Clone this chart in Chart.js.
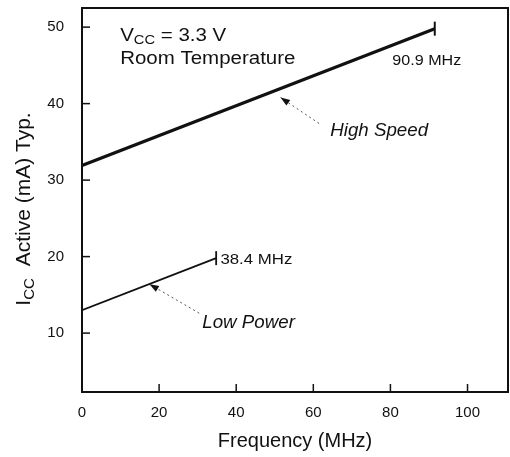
<!DOCTYPE html>
<html>
<head>
<meta charset="utf-8">
<script src="https://cdn.jsdelivr.net/npm/chart.js@4"></script>
<style>
  html, body { margin: 0; padding: 0; background: #fff; }
  #wrap { width: 510px; height: 457px; }
</style>
</head>
<body>
<div id="wrap"><canvas id="chart"></canvas></div>
<script>
// valores
const freqHighSpeed = [0, 91.5];
const iccHighSpeed = [31.9, 49.8];
const freqLowPower = [0, 34.8];
const iccLowPower = [13, 19.8];
const xTicks = [0, 20, 40, 60, 80, 100];
const yTicks = [10, 20, 30, 40, 50];

const FONT = '"Liberation Sans", Arial, sans-serif';

function pares(xs, ys) {
    return xs.map((x, i) => ({ x: x, y: ys[i] }));
}

// texto com subscrito (I_CC, V_CC), sx = esticamento horizontal
function textoSub(ctx, partes, x, y, size, sx) {
    ctx.save();
    ctx.translate(x, y);
    ctx.scale(sx || 1, 1);
    let cx = 0;
    partes.forEach(p => {
        const s = p.sub ? size * 0.72 : size;
        ctx.font = (p.italic ? 'italic ' : '') + s + 'px ' + FONT;
        ctx.fillText(p.t, cx, p.sub ? size * 0.2 : 0);
        cx += ctx.measureText(p.t).width;
    });
    ctx.restore();
}

function larguraSub(ctx, partes, size) {
    let w = 0;
    partes.forEach(p => {
        const s = p.sub ? size * 0.72 : size;
        ctx.font = s + 'px ' + FONT;
        w += ctx.measureText(p.t).width;
    });
    return w;
}

function seta(ctx, x1, y1, x2, y2) {
    ctx.save();
    ctx.strokeStyle = '#555';
    ctx.lineWidth = 1;
    ctx.setLineDash([2, 3]);
    ctx.beginPath();
    ctx.moveTo(x1, y1);
    ctx.lineTo(x2, y2);
    ctx.stroke();
    ctx.setLineDash([]);
    const a = Math.atan2(y2 - y1, x2 - x1);
    ctx.fillStyle = '#111';
    ctx.beginPath();
    ctx.moveTo(x2, y2);
    ctx.lineTo(x2 - 10 * Math.cos(a - 0.35), y2 - 10 * Math.sin(a - 0.35));
    ctx.lineTo(x2 - 10 * Math.cos(a + 0.35), y2 - 10 * Math.sin(a + 0.35));
    ctx.closePath();
    ctx.fill();
    ctx.restore();
}

const anotacoes = {
    id: 'anotacoes',
    afterDraw(chart) {
        const ctx = chart.ctx;
        const a = chart.chartArea;
        const xs = chart.scales.x, ys = chart.scales.y;
        const px = v => xs.getPixelForValue(v);
        const py = v => ys.getPixelForValue(v);

        ctx.save();
        // moldura
        ctx.strokeStyle = '#111';
        ctx.lineWidth = 2;
        ctx.strokeRect(a.left, a.top, a.right - a.left, a.bottom - a.top);

        // marcas internas
        ctx.lineWidth = 1.5;
        yTicks.forEach(v => {
            ctx.beginPath();
            ctx.moveTo(a.left, py(v));
            ctx.lineTo(a.left + 8, py(v));
            ctx.stroke();
        });
        xTicks.slice(1).forEach(v => {
            ctx.beginPath();
            ctx.moveTo(px(v), a.bottom);
            ctx.lineTo(px(v), a.bottom - 8);
            ctx.stroke();
        });

        ctx.fillStyle = '#111';
        ctx.textBaseline = 'alphabetic';
        ctx.textAlign = 'left';
        textoSub(ctx, [{ t: 'V' }, { t: 'CC', sub: true }, { t: ' = 3.3 V' }], px(9.9), py(48.2), 17.5, 1.17);
        textoSub(ctx, [{ t: 'Room Temperature' }], px(9.9), py(45.2), 17.5, 1.17);

        textoSub(ctx, [{ t: '90.9 MHz' }], px(80.5), py(45.0), 14, 1.15);
        textoSub(ctx, [{ t: '38.4 MHz' }], px(35.9), py(19.0), 14, 1.2);

        textoSub(ctx, [{ t: 'High Speed', italic: true }], px(64.4), py(35.8), 18, 1.04);
        textoSub(ctx, [{ t: 'Low Power', italic: true }], px(31.2), py(10.7), 18, 1.04);

        seta(ctx, px(61.5), py(37.4), px(51.5), py(40.8));
        seta(ctx, px(30.4), py(12.6), px(17.5), py(16.4));

        // título do eixo y, com subscrito
        const partes = [{ t: 'I' }, { t: 'CC', sub: true }, { t: '  Active (mA) Typ.' }];
        const w = larguraSub(ctx, partes, 21);
        ctx.translate(30, 209);
        ctx.rotate(-Math.PI / 2);
        textoSub(ctx, partes, -w / 2, 0, 21, 1);
        ctx.restore();
    }
};

document.addEventListener('DOMContentLoaded', function () {
    const ctx = document.getElementById('chart').getContext('2d');
    new Chart(ctx, {
        type: 'line',
        data: {
            datasets: [{
                label: 'High Speed',
                data: pares(freqHighSpeed, iccHighSpeed),
                borderColor: '#111',
                borderWidth: 3.2,
                pointStyle: 'line',
                rotation: 90,
                pointRadius: [0, 7],
                pointBorderWidth: 2,
                pointBorderColor: '#111',
                tension: 0
            }, {
                label: 'Low Power',
                data: pares(freqLowPower, iccLowPower),
                borderColor: '#111',
                borderWidth: 1.8,
                pointStyle: 'line',
                rotation: 90,
                pointRadius: [0, 7],
                pointBorderWidth: 1.8,
                pointBorderColor: '#111',
                tension: 0
            }]
        },
        options: {
            responsive: true,
            maintainAspectRatio: false,
            animation: false,
            layout: { autoPadding: false, padding: { left: 0, right: 2, top: 8, bottom: 0 } },
            plugins: {
                legend: { display: false },
                tooltip: { enabled: false }
            },
            scales: {
                x: {
                    type: 'linear',
                    min: 0,
                    max: 110.5,
                    afterBuildTicks: s => { s.ticks = xTicks.map(v => ({ value: v })); },
                    afterFit: s => { s.height = 65; s.paddingLeft = 0; s.paddingRight = 0; },
                    grid: { display: false },
                    border: { display: false },
                    ticks: {
                        color: '#111',
                        padding: 4,
                        font: { family: FONT, size: 15 }
                    },
                    title: {
                        display: true,
                        text: 'Frequency (MHz)',
                        color: '#111',
                        padding: { top: 13 },
                        font: { family: FONT, size: 20 }
                    }
                },
                y: {
                    type: 'linear',
                    min: 2.3,
                    max: 52.5,
                    afterBuildTicks: s => { s.ticks = yTicks.map(v => ({ value: v })); },
                    afterFit: s => { s.width = 82; s.paddingTop = 0; s.paddingBottom = 0; },
                    grid: { display: false },
                    border: { display: false },
                    ticks: {
                        color: '#111',
                        padding: 10,
                        font: { family: FONT, size: 15 }
                    }
                }
            }
        },
        plugins: [anotacoes]
    });
});
</script>
</body>
</html>
